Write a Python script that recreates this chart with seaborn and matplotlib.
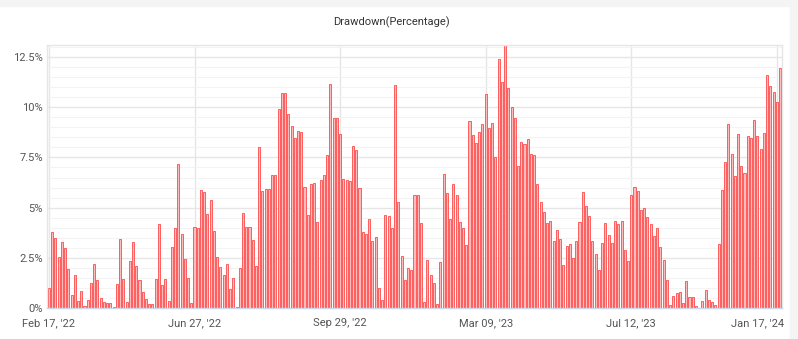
import matplotlib
matplotlib.use("Agg")
import matplotlib.pyplot as plt
import matplotlib.transforms as mtransforms
from matplotlib.ticker import MultipleLocator, FuncFormatter
from matplotlib.patches import Rectangle
import seaborn as sns
import pandas as pd

# ---- data ----
drawdown_pct = [
    0.98, 3.78, 3.49, 2.54, 3.29, 2.99, 1.94, 0.63, 1.64, 0.35, 0.85, 0.10, 0.40, 1.25, 2.19, 1.39, 0.50, 0.30, 0.25, 0.25,
    0.05, 1.20, 3.44, 1.44, 0.30, 2.34, 3.29, 2.09, 1.39, 0.80, 0.45, 0.20, 0.20, 1.44, 4.18, 1.15, 1.44, 0.35,
    3.04, 3.97, 7.17, 3.69, 2.44, 1.49, 0.25, 4.03, 3.98, 5.88, 5.78, 4.68, 5.38, 3.83, 2.54, 2.04, 1.64, 2.19, 0.95, 1.49,
    0.05, 1.99, 4.73, 4.03, 4.03, 3.39, 2.09, 8.02, 5.83, 5.93, 5.93, 6.62, 6.62, 9.91, 10.71, 10.71, 9.66, 9.06, 8.47,
    8.81, 8.76, 6.03, 4.63, 6.18, 6.23, 4.28, 6.37, 6.62, 7.62, 11.16, 9.46, 9.46, 8.67, 6.42, 6.37, 6.32, 8.07, 7.87, 5.98,
    3.78, 3.69, 4.43, 3.34, 3.54, 1.00, 0.40, 4.63, 4.58, 3.98, 11.10, 5.28, 2.59, 1.39, 1.99, 1.89, 5.63, 5.63, 4.23,
    0.30, 2.39, 1.64, 1.25, 0.20, 2.29, 6.67, 5.73, 4.43, 6.18, 5.63, 4.28, 3.98, 3.14, 9.31, 8.62, 8.22, 8.76, 9.16, 10.66,
    8.96, 9.21, 7.52, 12.40, 11.26, 13.10, 10.96, 10.01, 9.46, 7.07, 8.27, 8.17, 8.42, 7.67, 7.62, 6.18, 5.28, 4.78,
    4.23, 4.33, 3.34, 3.88, 3.44, 2.14, 3.09, 3.19, 2.49, 3.34, 4.28, 5.78, 5.08, 4.58, 3.34, 2.69, 1.89, 3.24, 4.23, 3.64,
    3.24, 4.33, 4.18, 4.33, 2.89, 2.34, 5.63, 6.03, 5.83, 4.88, 4.98, 4.53, 4.18, 3.59, 3.98, 3.04, 2.39, 1.39, 0.15,
    0.60, 0.75, 0.80, 0.25, 1.34, 0.55, 0.55, 0.10, 0.02, 0.35, 0.90, 0.40, 0.30, 0.15, 3.19, 5.88, 7.27, 9.16, 7.67, 6.57,
    8.67, 7.07, 6.72, 8.57, 8.47, 9.36, 8.57, 7.92, 8.72, 11.60, 11.06, 10.76, 10.26, 11.95,
]
tick_labels = ["Feb 17, '22", "Jun 27, '22", "Sep 29, '22", "Mar 09, '23", "Jul 12, '23", "Jan 17, '24"]
tick_every = 45
title = "Drawdown(Percentage)"

df = pd.DataFrame({"idx": list(range(len(drawdown_pct))), "dd": drawdown_pct})

sns.set_theme(style="white")
plt.rcParams["font.family"] = ["Roboto", "DejaVu Sans"]

W, H = 798, 339
fig = plt.figure(figsize=(W / 100, H / 100), dpi=100)
fig.patch.set_facecolor("white")

# light grey page strips (top and right)
fig.add_artist(Rectangle((0, 1 - 6 / H), 1, 6 / H, transform=fig.transFigure, color="#f4f4f4", zorder=0))
fig.add_artist(Rectangle((790 / W, 0), 8 / W, 1, transform=fig.transFigure, color="#f4f4f4", zorder=0))

left, right, top, bottom = 47.3, 781.7, 45, 308
ax = fig.add_axes([left / W, 1 - bottom / H, (right - left) / W, (bottom - top) / H])

sns.barplot(data=df, x="idx", y="dd", ax=ax, color="#ffbcbc", saturation=1,
            width=0.64, edgecolor="#ff4848", linewidth=0.6, errorbar=None)

n = len(drawdown_pct)
ax.set_xlim(-0.5, n - 0.5)
ax.set_ylim(0, 13.1)
ax.set_xlabel("")
ax.set_ylabel("")

ticks = [i * tick_every for i in range(len(tick_labels))]
ax.set_xticks(ticks)
ax.set_xticklabels(tick_labels)
ax.yaxis.set_major_locator(MultipleLocator(2.5))
ax.yaxis.set_minor_locator(MultipleLocator(0.5))
ax.yaxis.set_major_formatter(FuncFormatter(lambda v, p: f"{v:g}%"))

ax.tick_params(axis="x", length=0, pad=7, labelsize=8, labelcolor="#555555")
ax.tick_params(axis="y", which="both", length=0, pad=3, labelsize=8, labelcolor="#555555")

# shift last x label left so it stays inside the chart
last = ax.get_xticklabels()[-1]
last.set_horizontalalignment("right")
last.set_transform(last.get_transform() + mtransforms.ScaledTranslation(5 / 72, 0, fig.dpi_scale_trans))

ax.set_axisbelow(True)
ax.grid(which="major", axis="y", color="#e6e6e6", linewidth=1.0)
ax.grid(which="minor", axis="y", color="#f3f3f3", linewidth=0.8)
ax.grid(which="major", axis="x", color="#e6e6e6", linewidth=1.0)

for s in ["top", "left", "right"]:
    ax.spines[s].set_visible(True)
    ax.spines[s].set_color("#e6e6e6")
    ax.spines[s].set_linewidth(1.0)
ax.spines["bottom"].set_color("#ccd6eb")
ax.spines["bottom"].set_linewidth(1.0)

fig.text(391 / W, 1 - 22 / H, title, ha="center", va="center", fontsize=8, color="#333333")

fig.savefig("out.png", dpi=100)
